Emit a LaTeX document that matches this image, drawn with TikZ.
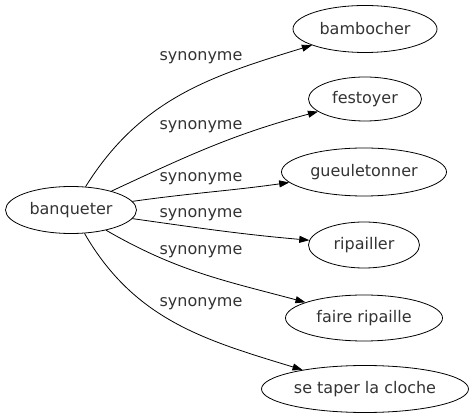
\documentclass[tikz,border=0pt]{standalone}
\usepackage{fontspec}
\setmainfont{DejaVu Sans}
\usetikzlibrary{shapes.geometric,arrows.meta}
\begin{document}
\begin{tikzpicture}[x=1pt,y=-1pt,
  word/.style={draw,ellipse,inner sep=0pt,line width=0.8pt,font=\fontsize{16}{18}\selectfont,text=black!80},
  lbl/.style={font=\fontsize{16}{18}\selectfont,text=black!80,inner sep=0pt},
  edge/.style={line width=0.8pt,-{Triangle[length=10pt,width=7pt]}}]
\useasboundingbox (0,0) rectangle (474,419);
\node[word,minimum width=131pt,minimum height=47pt] (b) at (71,210) {banqueter};
\node[word,minimum width=144pt,minimum height=47pt] (n1) at (365,29) {bambocher};
\node[word,minimum width=113pt,minimum height=44pt] (n2) at (365,99) {festoyer};
\node[word,minimum width=165pt,minimum height=48pt] (n3) at (364,172) {gueuletonner};
\node[word,minimum width=111pt,minimum height=46pt] (n4) at (364,245) {ripailler};
\node[word,minimum width=157pt,minimum height=46pt] (n5) at (364,318) {faire ripaille};
\node[word,minimum width=207pt,minimum height=47pt] (n6) at (365,389) {se taper la cloche};
\node[lbl] (l1) at (201,58) {synonyme};
\node[lbl] (l2) at (201,127) {synonyme};
\node[lbl] (l3) at (201,179) {synonyme};
\node[lbl] (l4) at (201,215) {synonyme};
\node[lbl] (l5) at (201,252) {synonyme};
\node[lbl] (l6) at (201,304) {synonyme};
\draw[edge] (b) to[out=58,in=197] (n1);
\draw[edge] (b) to[out=25,in=195] (n2);
\draw[edge] (b) to[out=8,in=188] (n3);
\draw[edge] (b) to[out=-8,in=175] (n4);
\draw[edge] (b) to[out=-30,in=165] (n5);
\draw[edge] (b) to[out=-60,in=163] (n6);
\end{tikzpicture}
\end{document}
